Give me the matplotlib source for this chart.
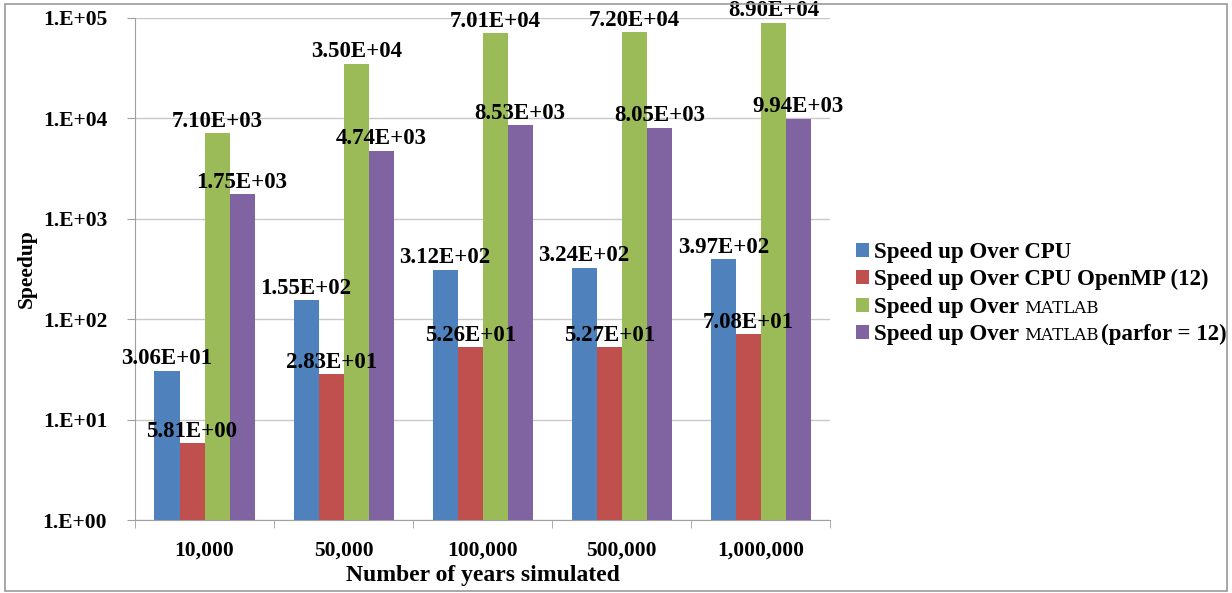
import matplotlib.pyplot as plt
import numpy as np
from matplotlib.ticker import FixedLocator, FuncFormatter
from matplotlib.patches import Rectangle

years = ["10,000", "50,000", "100,000", "500,000", "1,000,000"]

over_cpu = [30.6, 155, 312, 324, 397]
over_openmp = [5.81, 28.3, 52.6, 52.7, 70.8]
over_matlab = [7100, 35000, 70100, 72000, 89000]
over_parfor = [1750, 4740, 8530, 8050, 9940]

# legend text: bold head, then a smaller plain "MATLAB", then an optional bold tail
series_heads = ["Speed up Over CPU", "Speed up Over CPU OpenMP (12)",
                "Speed up Over", "Speed up Over"]
series_small = [None, None, "MATLAB", "MATLAB"]
series_tails = [None, None, None, "(parfor = 12)"]
colors = ["#4F81BD", "#C0504D", "#9BBB59", "#8064A2"]

plt.rcParams["font.family"] = ["Liberation Serif", "DejaVu Serif"]
plt.rcParams["font.weight"] = "bold"

fig = plt.figure(figsize=(12.32, 5.93), dpi=100)
fig.patches.append(Rectangle((0.004, 0.004), 0.992, 0.99, transform=fig.transFigure,
                             fill=False, edgecolor="#9a9a9a", linewidth=1.2))

ax = fig.add_axes([0.1096, 0.123, 0.5644, 0.847])

x = np.arange(len(years))
width = 0.18
all_series = [over_cpu, over_openmp, over_matlab, over_parfor]

for i, (vals, name, col) in enumerate(zip(all_series, series_heads, colors)):
    pos = x + (i - 1.5) * width
    ax.bar(pos, vals, width, color=col, label=name, zorder=3)
    for px, v in zip(pos, vals):
        ax.annotate(f"{v:.2E}", (px, v), xytext=(0, 1), textcoords="offset points",
                    ha="center", va="bottom", fontsize=16.5, fontweight="bold", zorder=5)

ax.set_yscale("log")
ax.set_ylim(1, 1e5)
ax.set_xlim(-0.5, len(years) - 0.5)
ax.yaxis.set_major_locator(FixedLocator([1, 10, 100, 1e3, 1e4, 1e5]))
ax.yaxis.set_minor_locator(FixedLocator([]))
ax.yaxis.set_major_formatter(FuncFormatter(lambda v, p: "1.E+%02d" % round(np.log10(v))))
ax.grid(axis="y", color="#c8c8c8", linewidth=1, zorder=0)

ax.set_xticks(x)
ax.set_xticklabels(years)
ax.set_xticks(np.arange(len(years) + 1) - 0.5, minor=True)
ax.tick_params(axis="x", which="major", length=0, pad=15, labelsize=15.5)
ax.tick_params(axis="x", which="minor", length=6, color="#a0a0a0")
ax.tick_params(axis="y", length=6, color="#a0a0a0", pad=14, labelsize=15.5)

for side in ["top", "right"]:
    ax.spines[side].set_visible(False)
for side in ["left", "bottom"]:
    ax.spines[side].set_color("#a0a0a0")

ax.set_xlabel("Number of years simulated", fontsize=17, fontweight="bold", labelpad=3)
ax.set_ylabel("Speedup", fontsize=15.5, fontweight="bold", labelpad=4)

leg = fig.legend(loc="center left", bbox_to_anchor=(0.678, 0.505), frameon=False,
                 fontsize=16.5, handlelength=0.55, handleheight=0.55, handletextpad=0.25,
                 labelspacing=0.28)

# append the plain "MATLAB" and the bold tail after the legend labels
fig.canvas.draw()
renderer = fig.canvas.get_renderer()
inv = fig.transFigure.inverted()
for txt, small, tail in zip(leg.get_texts(), series_small, series_tails):
    if small is None:
        continue
    bb = txt.get_window_extent(renderer)
    _, _, descent = renderer.get_text_width_height_descent(
        txt.get_text(), txt.get_fontproperties(), ismath=False)
    base = bb.y0 + descent
    fx, fy = inv.transform((bb.x1 + 5, base))
    t2 = fig.text(fx, fy, small, fontsize=12, fontweight="normal",
                  family="DejaVu Serif", va="baseline")
    if tail is not None:
        bb2 = t2.get_window_extent(renderer)
        fx2, _ = inv.transform((bb2.x1 + 2, base))
        fig.text(fx2, fy, tail, fontsize=16.5, fontweight="bold", va="baseline")

fig.savefig("out.png", dpi=100)
